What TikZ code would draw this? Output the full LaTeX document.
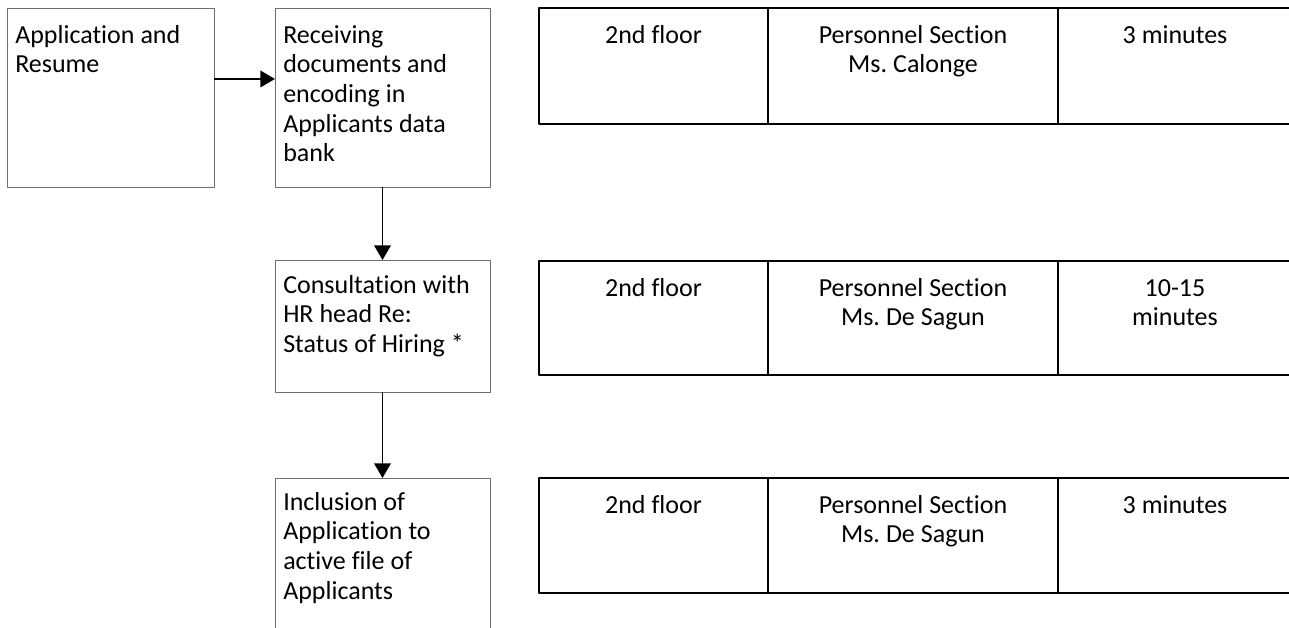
\documentclass[tikz,border=0pt]{standalone}
\usepackage{fontspec}
\setmainfont{Carlito}[Ligatures=NoCommon]
\usetikzlibrary{arrows.meta}
\definecolor{boxgray}{RGB}{110,110,110}
\frenchspacing
\tikzset{
  stepbox/.style={draw=boxgray,line width=0.75pt,minimum height=134.25pt,minimum width=161.25pt,inner sep=0pt,outer sep=0pt,anchor=north west},
  boxtext/.style={anchor=base west,inner sep=0pt,text width=155pt,execute at begin node={\raggedright\spaceskip=0.23em\relax}},
  celltext/.style={anchor=base,inner sep=0pt,text width=200pt,execute at begin node={\centering\spaceskip=0.23em\relax}},
  rowline/.style={line width=1.1pt},
  colline/.style={line width=2.2pt}
}
\begin{document}
\begin{tikzpicture}[x=0.75pt,y=-0.75pt,line join=round,>={Triangle[length=11pt,width=12.5pt]},font=\fontsize{19.5pt}{22.3pt}\selectfont]
\useasboundingbox (0,0) rectangle (1289,628);
\clip (0,0) rectangle (1289,628);
% steps on the left
\node[stepbox,minimum width=155.25pt] (appl) at (7,8) {};
\node[stepbox] (recv) at (275,8) {};
\node[stepbox,minimum height=99pt] (consult) at (275,260) {};
\node[stepbox,minimum height=150pt] (incl) at (275,478) {};
\node[boxtext] (applT) at (15,43) {Application and\\Resume};
\node[boxtext] (recvT) at (283,43) {Receiving\\documents and\\encoding in\\Applicants data\\bank};
\node[boxtext] (consultT) at (283,293) {Consultation with\\HR head Re:\\Status of Hiring *};
\node[boxtext] (inclT) at (283,510) {Inclusion of\\Application to\\active file of\\Applicants};
\draw[->,line width=1.1pt] ([yshift=13.9pt]appl.east) -- ([yshift=13.9pt]recv.west);
\draw[->,line width=1.1pt] (recv.south) -- (consult.north);
\draw[->,line width=1.1pt] (consult.south) -- (incl.north);
% table on the right
\foreach \t/\b in {8/124,261/375,478/593}{
  \draw[rowline] (1300,\t) -- (539,\t) -- (539,\b) -- (1300,\b);
  \draw[colline] (768,\t) -- (768,\b) (1058,\t) -- (1058,\b);
}
\node[celltext] (floor1) at (653.5,43) {2nd floor};
\node[celltext] (sect1) at (913,43) {Personnel Section\\Ms. Calonge};
\node[celltext] (time1) at (1175,43) {3 minutes};
\node[celltext] (floor2) at (653.5,296) {2nd floor};
\node[celltext] (sect2) at (913,296) {Personnel Section\\Ms. De Sagun};
\node[celltext] (time2) at (1175,296) {10-15\\minutes};
\node[celltext] (floor3) at (653.5,513) {2nd floor};
\node[celltext] (sect3) at (913,513) {Personnel Section\\Ms. De Sagun};
\node[celltext] (time3) at (1175,513) {3 minutes};
\end{tikzpicture}
\end{document}
